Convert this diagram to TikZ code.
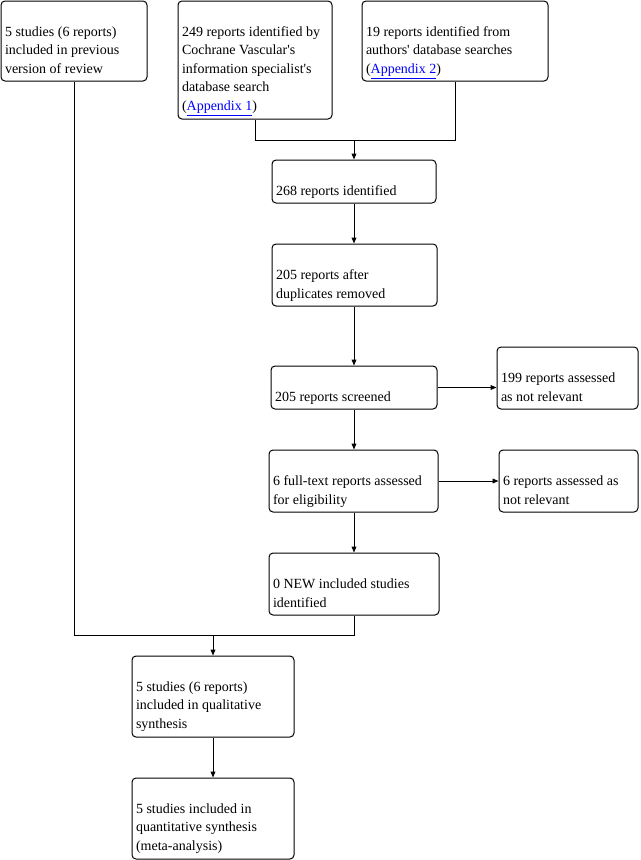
\documentclass[tikz,border=0pt]{standalone}
\usepackage{fontspec}
\setmainfont{Liberation Serif}
\usetikzlibrary{arrows.meta,calc,fit}
\newcommand\lnk[1]{\textcolor{blue}{\underline{#1}}}
\newcommand\apos{\textquotesingle}
\begin{document}
\begin{tikzpicture}[x=0.75pt,y=-0.75pt,line width=0.75pt,
  box/.style={draw, rounded corners=3pt, inner sep=0pt},
  txt/.style={anchor=base west, align=left, inner sep=0pt, font=\fontsize{10.5pt}{13.9pt}\selectfont},
  arr/.style={-{Triangle[length=4.5pt,width=3.6pt]}}]
\useasboundingbox (0,0) rectangle (641,860);
% boxes
\node[box, fit={(1,1) (147,81)}] (A) {};
\node[box, fit={(178,1) (332,119)}] (B) {};
\node[box, fit={(362,1) (548,81)}] (C) {};
\node[box, fit={(272,160) (436,203)}] (D) {};
\node[box, fit={(272,244) (437,306)}] (E) {};
\node[box, fit={(271,366) (437,409)}] (F) {};
\node[box, fit={(497,347) (638,409)}] (G) {};
\node[box, fit={(269,450) (438,512)}] (H) {};
\node[box, fit={(499,450) (638,512)}] (I) {};
\node[box, fit={(269,553) (439,615)}] (J) {};
\node[box, fit={(132,656) (294,737)}] (K) {};
\node[box, fit={(132,778) (294,859)}] (L) {};
% texts (anchored at the baseline of the last line)
\node[txt] (tA) at ($(A.north west)+(4,73)$) {5 studies (6 reports)\\included in previous\\version of review};
\node[txt] (tB) at ($(B.north west)+(4,110)$) {249 reports identified by\\Cochrane Vascular\apos s\\information specialist\apos s\\database search\\(\lnk{Appendix 1})};
\node[txt] (tC) at ($(C.north west)+(4,73)$) {19 reports identified from\\authors\apos{} database searches\\(\lnk{Appendix 2})};
\node[txt] (tD) at ($(D.north west)+(4,36)$) {268 reports identified};
\node[txt] (tE) at ($(E.north west)+(4,54.5)$) {205 reports after\\duplicates removed};
\node[txt] (tF) at ($(F.north west)+(4,36)$) {205 reports screened};
\node[txt] (tG) at ($(G.north west)+(4,54.5)$) {199 reports assessed\\as not relevant};
\node[txt] (tH) at ($(H.north west)+(4,54.5)$) {6 full-text reports assessed\\for eligibility};
\node[txt] (tI) at ($(I.north west)+(4,54.5)$) {6 reports assessed as\\not relevant};
\node[txt] (tJ) at ($(J.north west)+(4,54.5)$) {0 NEW included studies\\identified};
\node[txt] (tK) at ($(K.north west)+(4,73)$) {5 studies (6 reports)\\included in qualitative\\synthesis};
\node[txt] (tL) at ($(L.north west)+(4,73)$) {5 studies included in\\quantitative synthesis\\(meta-analysis)};
% connectors
\coordinate (y140) at (0,140);
\coordinate (y635) at (0,635);
\coordinate (m1) at (D.north |- y140);
\coordinate (m2) at (K.north |- y635);
\draw (B.south) -- (B.south |- y140) -- (C.south |- y140) -- (C.south);
\draw[arr] (m1) -- (D.north);
\draw[arr] (D.south) -- (D.south |- E.north);
\draw[arr] (D.south |- E.south) -- (D.south |- F.north);
\draw[arr] (F.east) -- (F.east -| G.west);
\draw[arr] (D.south |- F.south) -- (D.south |- H.north);
\draw[arr] (H.east) -- (H.east -| I.west);
\draw[arr] (D.south |- H.south) -- (D.south |- J.north);
\draw (A.south) -- (A.south |- y635) -- (D.south |- y635) -- (D.south |- J.south);
\draw[arr] (m2) -- (K.north);
\draw[arr] (K.south) -- (L.north);
\end{tikzpicture}
\end{document}
